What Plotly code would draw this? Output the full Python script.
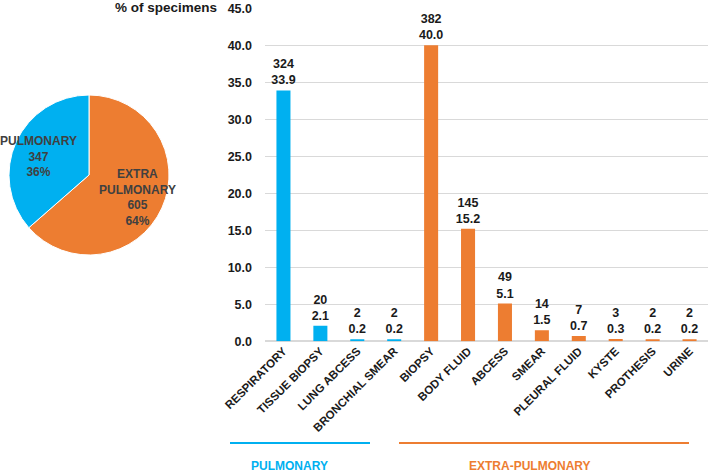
import plotly.graph_objects as go

categories = ["RESPIRATORY", "TISSUE BIOPSY", "LUNG ABCESS", "BRONCHIAL SMEAR",
              "BIOPSY", "BODY FLUID", "ABCESS", "SMEAR", "PLEURAL FLUID",
              "KYSTE", "PROTHESIS", "URINE"]
counts = [324, 20, 2, 2, 382, 145, 49, 14, 7, 3, 2, 2]
percents = [33.9, 2.1, 0.2, 0.2, 40.0, 15.2, 5.1, 1.5, 0.7, 0.3, 0.2, 0.2]
groups = ["PULMONARY"] * 4 + ["EXTRA-PULMONARY"] * 8

pie_labels = ["EXTRA PULMONARY", "PULMONARY"]
pie_values = [605, 347]
pie_pct = [64, 36]

y_ticks = [0, 5, 10, 15, 20, 25, 30, 35, 40, 45]

BLUE = "#00B0F0"
ORANGE = "#ED7D31"
FONT = "Liberation Sans"
W, H = 708, 472

colors = [BLUE if g == "PULMONARY" else ORANGE for g in groups]

fig = go.Figure()

fig.add_trace(go.Bar(
    x=categories, y=percents,
    marker=dict(color=colors, line=dict(width=0)),
    text=[f"<b>{c}</b><br><b>{p:.1f}</b>" for c, p in zip(counts, percents)],
    textposition="outside", cliponaxis=False, constraintext="none",
    textfont=dict(family=FONT, size=12.5, color="#1a1a1a"),
    showlegend=False, hoverinfo="x+y",
))

fig.add_trace(go.Pie(
    labels=pie_labels, values=pie_values,
    marker=dict(colors=[ORANGE, BLUE], line=dict(color="white", width=1)),
    sort=False, direction="clockwise", rotation=0,
    textinfo="none", showlegend=False,
    domain=dict(x=[9 / W, 169 / W], y=[1 - 255 / H, 1 - 95 / H]),
))

def px(x):
    return x / W

def py(y):
    return 1 - y / H

def ann(x, y, text, size, color, xanchor="center"):
    return dict(x=px(x), y=py(y), xref="paper", yref="paper", text=text,
                showarrow=False, xanchor=xanchor, yanchor="middle", align="center",
                font=dict(family=FONT, size=size, color=color))

annotations = [
    ann(38, 156, f"<b>{pie_labels[1]}</b><br><b>{pie_values[1]}</b><br><b>{pie_pct[1]}%</b>", 12, "#404040"),
    ann(137, 197, "<b>EXTRA</b><br><b>PULMONARY</b><br>" + f"<b>{pie_values[0]}</b><br><b>{pie_pct[0]}%</b>", 12, "#404040"),
    ann(219, 8, "<b>% of specimens</b>", 13.5, "#1a1a1a", xanchor="right"),
    ann(289, 466, "<b>PULMONARY</b>", 12, BLUE),
    ann(530, 466, "<b>EXTRA-PULMONARY</b>", 12, ORANGE),
]

shapes = [
    dict(type="line", xref="paper", yref="paper", x0=px(230), x1=px(370),
         y0=py(443), y1=py(443), line=dict(color=BLUE, width=2)),
    dict(type="line", xref="paper", yref="paper", x0=px(399), x1=px(689),
         y0=py(443), y1=py(443), line=dict(color=ORANGE, width=2)),
]

fig.update_layout(
    width=W, height=H,
    margin=dict(l=0, r=0, t=0, b=0, autoexpand=False),
    paper_bgcolor="white", plot_bgcolor="white",
    bargap=0.62,
    font=dict(family=FONT, color="#1a1a1a"),
    xaxis=dict(domain=[265 / W, 1.0], tickangle=-45, showgrid=False,
               showline=False, ticks="", automargin=False,
               tickfont=dict(family=FONT, size=11.5, color="#1a1a1a"),
               tickvals=categories, ticktext=[f"<b>{c}</b>" for c in categories]),
    yaxis=dict(domain=[1 - 341.3 / H, 1 - 8.3 / H], range=[0, 45], automargin=False,
               tickvals=y_ticks, ticktext=[f"<b>{v:.1f}</b>" for v in y_ticks],
               tickfont=dict(family=FONT, size=12.5, color="#1a1a1a"),
               showgrid=True, gridcolor="#D9D9D9", gridwidth=1,
               zeroline=True, zerolinecolor="#D9D9D9", ticks="", ticklabelstandoff=12),
    annotations=annotations,
    shapes=shapes,
)

fig.write_html("out.html", config={"displayModeBar": False},
               post_script="document.body.style.margin='0px';")
